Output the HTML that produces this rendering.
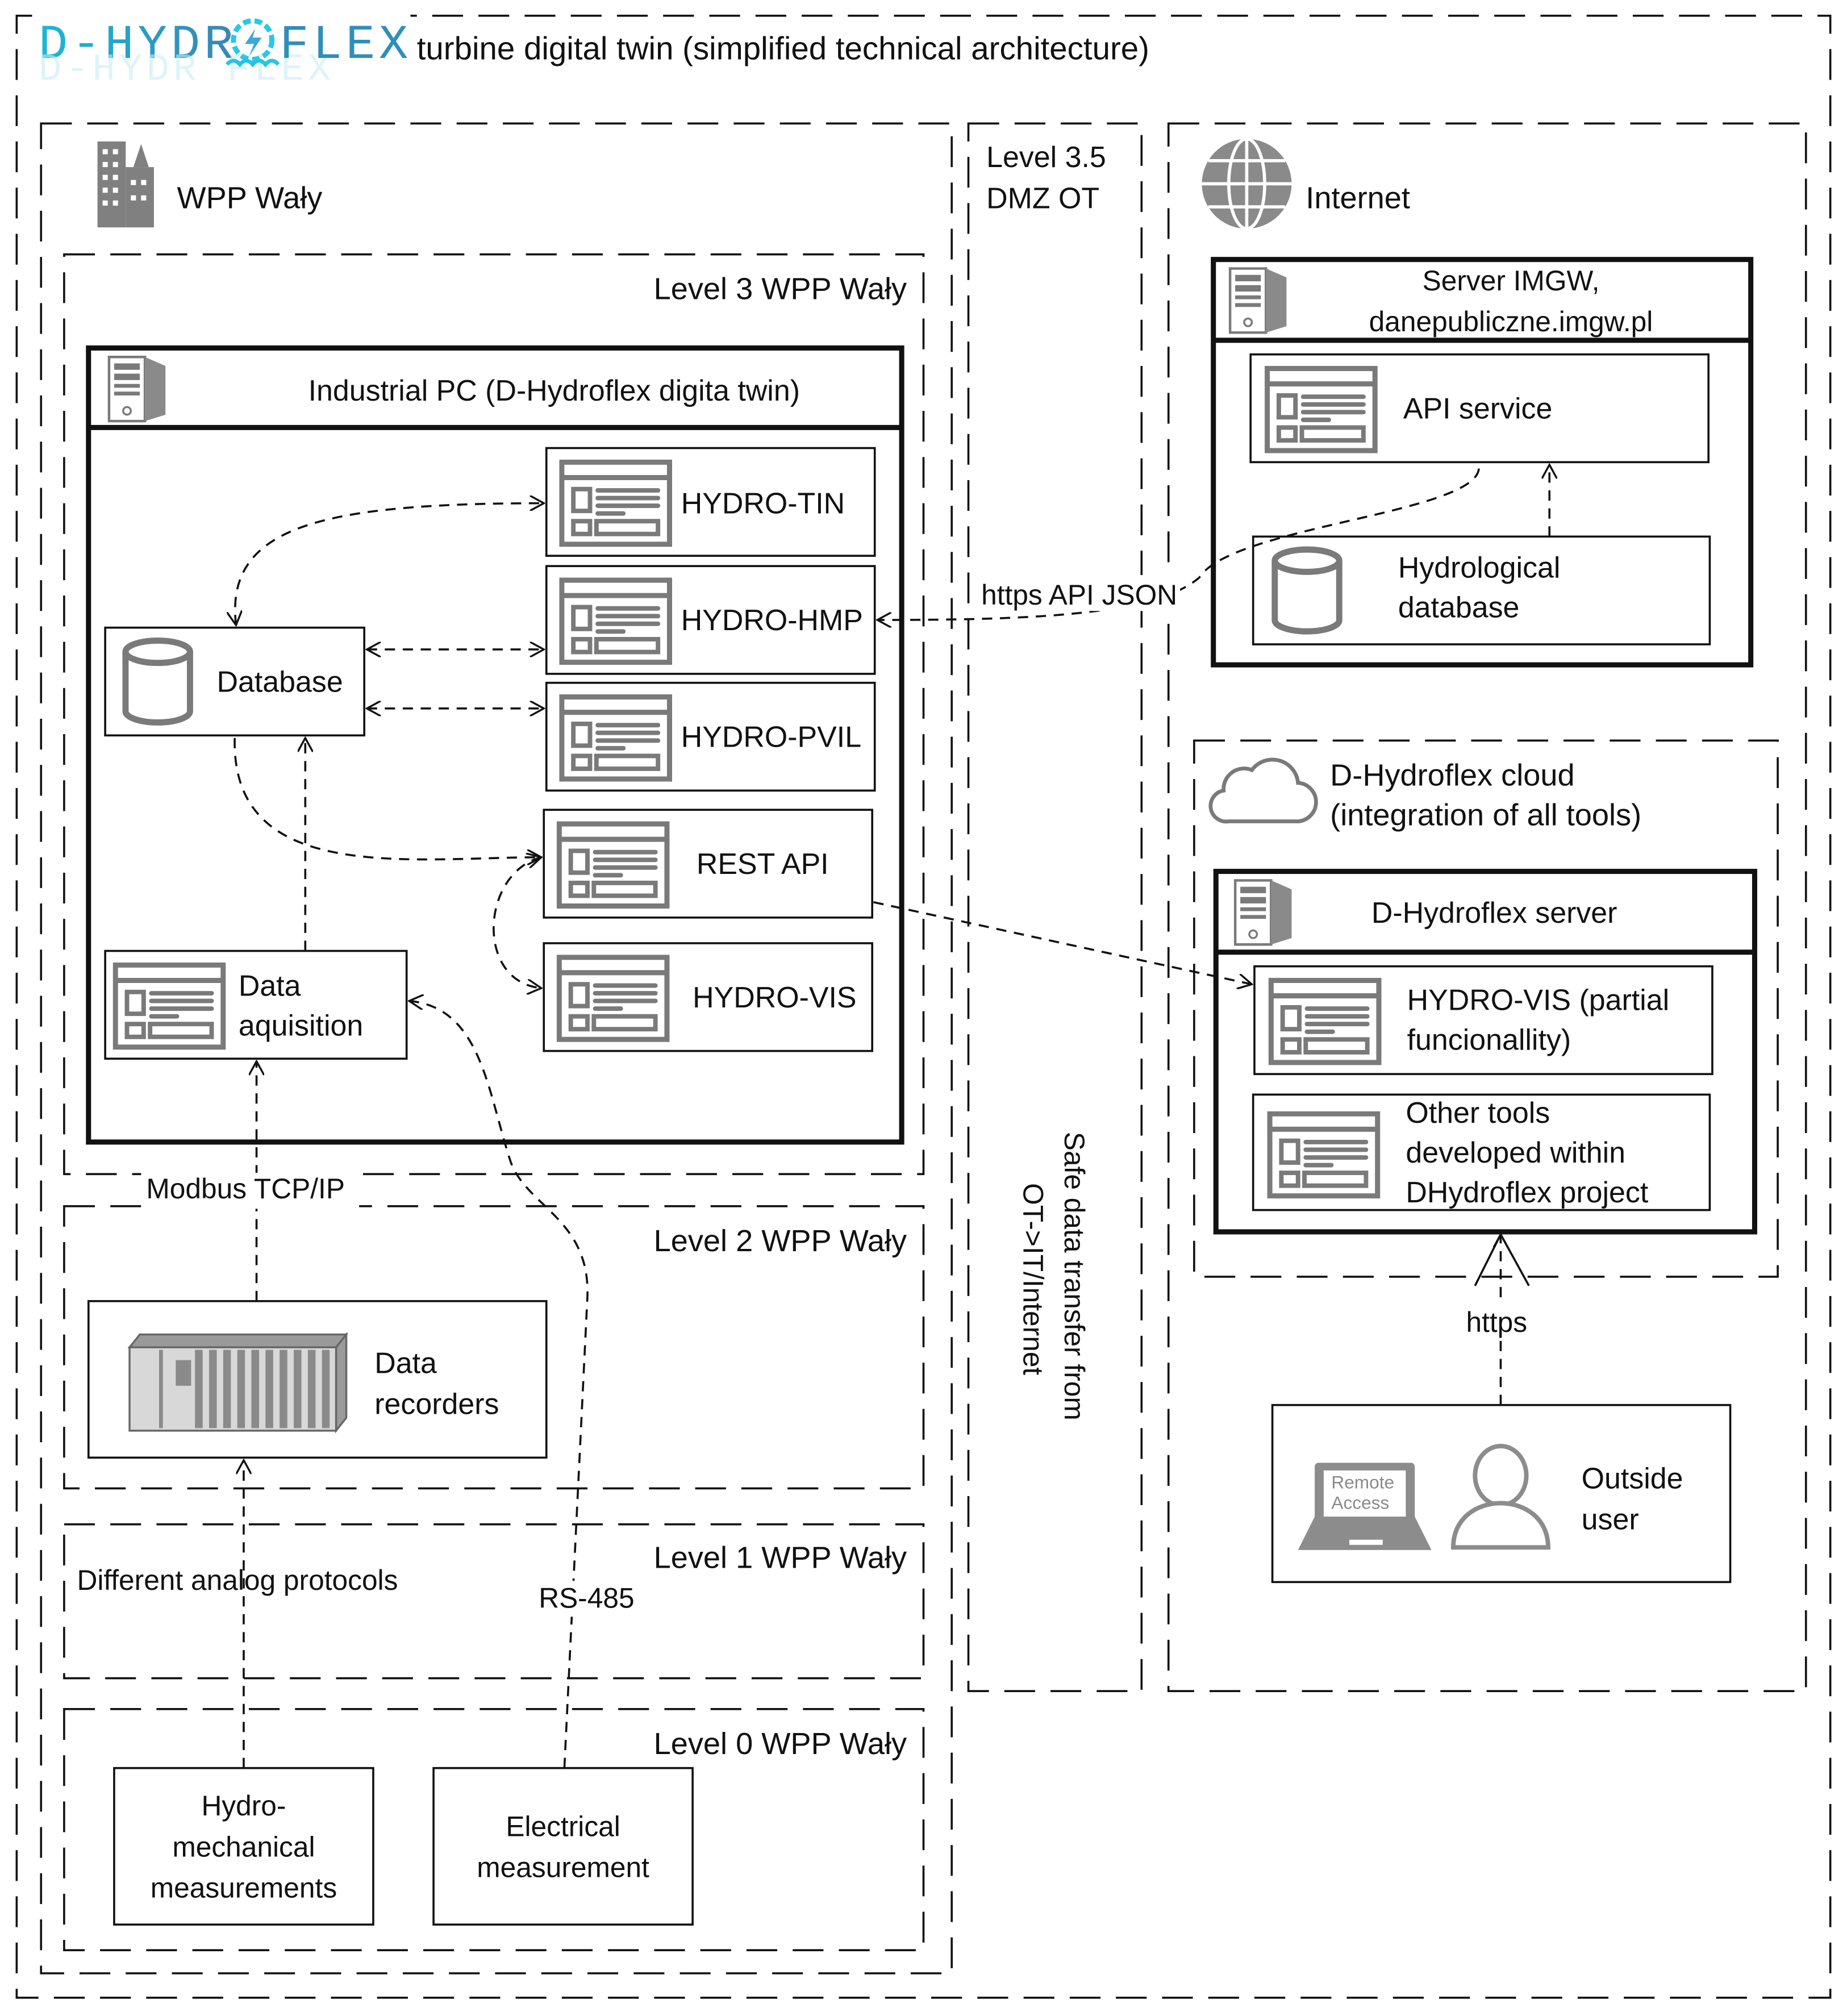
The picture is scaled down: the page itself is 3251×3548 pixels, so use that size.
<!DOCTYPE html>
<html><head><meta charset="utf-8"><style>
html,body{margin:0;padding:0;background:#fff;}
svg{display:block;}
text{font-family:"Liberation Sans",sans-serif;fill:#111;}
</style></head><body>
<svg width="3251" height="3548" viewBox="0 0 1440 1571" xmlns="http://www.w3.org/2000/svg">
<defs>
<symbol id="win" viewBox="0 0 88 68">
<rect x="2" y="2" width="84" height="64" fill="#fff" stroke="#7a7a7a" stroke-width="4"/>
<line x1="2" y1="14" x2="86" y2="14" stroke="#7a7a7a" stroke-width="4"/>
<rect x="11" y="23" width="13" height="17" fill="none" stroke="#7a7a7a" stroke-width="3.5"/>
<g stroke="#7a7a7a" stroke-width="3.5" stroke-linecap="round"><line x1="30" y1="24" x2="77" y2="24"/><line x1="30" y1="30" x2="77" y2="30"/><line x1="30" y1="36" x2="77" y2="36"/><line x1="30" y1="42" x2="50" y2="42"/></g>
<rect x="11" y="48" width="13" height="10" fill="none" stroke="#7a7a7a" stroke-width="3.5"/>
<rect x="29" y="48" width="48" height="10" fill="none" stroke="#7a7a7a" stroke-width="3.5"/>
</symbol>
<symbol id="srv" viewBox="0 0 46 52">
<rect x="1" y="1" width="28" height="50" fill="#fff" stroke="#7a7a7a" stroke-width="2"/>
<polygon points="29,1 45,8 45,46 29,51" fill="#8a8a8a"/>
<rect x="5" y="6" width="20" height="5" fill="#7a7a7a"/><rect x="5" y="14" width="20" height="5" fill="#7a7a7a"/><rect x="5" y="22" width="20" height="3" fill="#7a7a7a"/><rect x="5" y="28" width="20" height="3" fill="#7a7a7a"/>
<circle cx="15" cy="43" r="3" fill="none" stroke="#7a7a7a" stroke-width="1.5"/>
</symbol>
<symbol id="cyl" viewBox="0 0 60 72">
<path d="M4,12 V60 A26,9 0 0 0 56,60 V12" fill="#fff" stroke="#7a7a7a" stroke-width="5"/>
<ellipse cx="30" cy="12" rx="26" ry="9" fill="#fff" stroke="#7a7a7a" stroke-width="5"/>
</symbol>
<marker id="ah" viewBox="0 0 12 12" refX="11" refY="6" markerWidth="12" markerHeight="12" markerUnits="userSpaceOnUse" orient="auto-start-reverse"><path d="M0,0 L11,6 L0,12" fill="none" stroke="#111" stroke-width="1.5"/></marker>
<linearGradient id="lg" x1="0" x2="1"><stop offset="0" stop-color="#1ab8d8"/><stop offset="1" stop-color="#3a86b0"/></linearGradient>
</defs>

<g fill="none" stroke="#111" stroke-width="1.6" stroke-dasharray="24,12">
<rect x="13" y="12" width="1414" height="1545"/>
<rect x="32" y="96" width="710" height="1442"/>
<rect x="50" y="198" width="670" height="717"/>
<rect x="755" y="96" width="135" height="1222"/>
<rect x="911" y="96" width="497" height="1222"/>
<rect x="931" y="577" width="455" height="418"/>
<rect x="50" y="940" width="670" height="220"/>
<rect x="50" y="1188" width="670" height="120"/>
<rect x="50" y="1332" width="670" height="188"/>
</g>

<!-- title -->
<rect x="25" y="8" width="295" height="60" fill="#fff"/>
<text x="30" y="45" font-family="Liberation Mono,monospace" font-size="38" style="fill:url(#lg);font-family:'Liberation Mono',monospace" letter-spacing="3">D-HYDR</text>
<text x="30" y="62" font-size="30" style="fill:#c8eef6;font-family:'Liberation Mono',monospace" opacity="0.6" letter-spacing="3" transform="translate(0,0)">D-HYDR  FLEX</text>
<circle cx="197" cy="31" r="15" fill="none" stroke="#2cc7e6" stroke-width="4" stroke-dasharray="6,3"/>
<path d="M199,22 L191,34 L198,34 L194,44 L204,29 L197,29 Z" fill="#3aa8e0"/>
<path d="M177,50 q5,-6 10,0 q5,-6 10,0 q5,-6 10,0 q5,-6 10,0" fill="none" stroke="#25c4e4" stroke-width="3"/>
<text x="218" y="45" font-size="38" style="fill:#2e8fba;font-family:'Liberation Mono',monospace" letter-spacing="3">FLEX</text>
<text x="325" y="46" font-size="25">turbine digital twin (simplified technical architecture)</text>

<!-- WPP -->
<g fill="#808080"><rect x="76" y="110" width="22" height="67"/><rect x="98" y="130" width="22" height="47"/><polygon points="104,130 110,112 116,130"/></g>
<g fill="#fff"><rect x="80" y="116" width="4" height="4"/><rect x="88" y="116" width="4" height="4"/><rect x="80" y="126" width="4" height="4"/><rect x="88" y="126" width="4" height="4"/><rect x="80" y="136" width="4" height="4"/><rect x="88" y="136" width="4" height="4"/><rect x="80" y="146" width="4" height="4"/><rect x="88" y="146" width="4" height="4"/><rect x="80" y="156" width="4" height="4"/><rect x="88" y="156" width="4" height="4"/><rect x="102" y="140" width="4" height="4"/><rect x="110" y="140" width="4" height="4"/><rect x="102" y="152" width="4" height="4"/><rect x="110" y="152" width="4" height="4"/></g>
<text x="138" y="162" font-size="24">WPP Wały</text>
<text x="707" y="233" font-size="24" text-anchor="end">Level 3 WPP Wały</text>

<!-- Industrial PC -->
<rect x="69" y="271" width="634" height="619" fill="#fff" stroke="#111" stroke-width="4"/>
<line x1="69" y1="333" x2="703" y2="333" stroke="#111" stroke-width="4"/>
<use href="#srv" x="84" y="277" width="46" height="52"/>
<text x="432" y="312" font-size="23" text-anchor="middle">Industrial PC (D-Hydroflex digita twin)</text>

<g fill="#fff" stroke="#111" stroke-width="1.6">
<rect x="426" y="349" width="256" height="84"/>
<rect x="426" y="441" width="256" height="84"/>
<rect x="426" y="532" width="256" height="84"/>
<rect x="424" y="631" width="256" height="84"/>
<rect x="424" y="735" width="256" height="84"/>
<rect x="82" y="489" width="202" height="84"/>
<rect x="82" y="741" width="235" height="84"/>
</g>
<use href="#win" x="436" y="358" width="88" height="68"/>
<use href="#win" x="436" y="450" width="88" height="68"/>
<use href="#win" x="436" y="541" width="88" height="68"/>
<use href="#win" x="434" y="640" width="88" height="68"/>
<use href="#win" x="434" y="744" width="88" height="68"/>
<use href="#win" x="88" y="750" width="88" height="68"/>
<use href="#cyl" x="94" y="495" width="58" height="72"/>
<g font-size="23">
<text x="531" y="400">HYDRO-TIN</text>
<text x="531" y="491">HYDRO-HMP</text>
<text x="531" y="582">HYDRO-PVIL</text>
<text x="543" y="681">REST API</text>
<text x="540" y="785">HYDRO-VIS</text>
<text x="169" y="539">Database</text>
<text x="186" y="776">Data</text>
<text x="186" y="807">aquisition</text>
</g>

<!-- Level 3.5 -->
<text x="769" y="130" font-size="23">Level 3.5</text>
<text x="769" y="162" font-size="23">DMZ OT</text>
<text transform="translate(830,882) rotate(90)" font-size="22">Safe data transfer from</text>
<text transform="translate(798,922) rotate(90)" font-size="22">OT-&gt;IT/Internet</text>

<!-- Internet -->
<circle cx="972" cy="143" r="35" fill="#8a8a8a"/>
<g fill="none" stroke="#fff" stroke-width="2.5"><ellipse cx="972" cy="143" rx="14" ry="35"/><line x1="972" y1="108" x2="972" y2="178"/><line x1="937" y1="143" x2="1007" y2="143"/><path d="M942,125 H1002 M942,161 H1002"/></g>
<text x="1018" y="162" font-size="24">Internet</text>

<rect x="946" y="202" width="419" height="316" fill="#fff" stroke="#111" stroke-width="4"/>
<line x1="946" y1="265" x2="1365" y2="265" stroke="#111" stroke-width="4"/>
<use href="#srv" x="958" y="208" width="46" height="52"/>
<text x="1178" y="226" font-size="22" text-anchor="middle">Server IMGW,</text>
<text x="1178" y="258" font-size="22" text-anchor="middle">danepubliczne.imgw.pl</text>
<rect x="975" y="276" width="357" height="84" fill="#fff" stroke="#111" stroke-width="1.6"/>
<use href="#win" x="985" y="285" width="90" height="68"/>
<text x="1094" y="326" font-size="23">API service</text>
<rect x="977" y="418" width="356" height="84" fill="#fff" stroke="#111" stroke-width="1.6"/>
<use href="#cyl" x="990" y="424" width="58" height="72"/>
<text x="1090" y="450" font-size="23">Hydrological</text>
<text x="1090" y="481" font-size="23">database</text>

<!-- cloud -->
<path d="M958,640 a12,12 0 0 1 -4,-24 a16,16 0 0 1 22,-16 a20,20 0 0 1 36,10 a14,14 0 0 1 -2,30 Z" fill="#fff" stroke="#7a7a7a" stroke-width="3"/>
<text x="1037" y="612" font-size="24">D-Hydroflex cloud</text>
<text x="1037" y="643" font-size="24">(integration of all tools)</text>
<rect x="948" y="679" width="420" height="281" fill="#fff" stroke="#111" stroke-width="4"/>
<line x1="948" y1="742" x2="1368" y2="742" stroke="#111" stroke-width="4"/>
<use href="#srv" x="962" y="685" width="46" height="52"/>
<text x="1165" y="719" font-size="23" text-anchor="middle">D-Hydroflex server</text>
<rect x="978" y="753" width="357" height="84" fill="#fff" stroke="#111" stroke-width="1.6"/>
<use href="#win" x="988" y="762" width="90" height="68"/>
<text x="1097" y="787" font-size="23">HYDRO-VIS (partial</text>
<text x="1097" y="818" font-size="23">funcionallity)</text>
<rect x="977" y="853" width="356" height="90" fill="#fff" stroke="#111" stroke-width="1.6"/>
<use href="#win" x="987" y="866" width="90" height="68"/>
<text x="1096" y="875" font-size="23">Other tools</text>
<text x="1096" y="906" font-size="23">developed within</text>
<text x="1096" y="937" font-size="23">DHydroflex project</text>

<!-- outside user -->
<rect x="992" y="1095" width="357" height="138" fill="#fff" stroke="#111" stroke-width="1.6"/>
<rect x="1025" y="1140" width="78" height="62" rx="3" fill="#8c8c8c"/>
<rect x="1032" y="1146" width="64" height="50" fill="#fff"/>
<polygon points="1025,1196 1103,1196 1116,1222 1012,1222" fill="#8c8c8c" transform="translate(0,-14)"/>
<rect x="1052" y="1200" width="26" height="4" fill="#fff"/>
<text x="1038" y="1160" font-size="14" style="fill:#8a8a8a">Remote</text>
<text x="1038" y="1176" font-size="14" style="fill:#8a8a8a">Access</text>
<ellipse cx="1170" cy="1150" rx="20" ry="23" fill="#fff" stroke="#8c8c8c" stroke-width="3.5"/>
<path d="M1133,1206 C1133,1160 1207,1160 1207,1206 Z" fill="#fff" stroke="#8c8c8c" stroke-width="3.5"/>
<text x="1233" y="1160" font-size="23">Outside</text>
<text x="1233" y="1192" font-size="23">user</text>

<!-- Level 2 -->
<text x="707" y="975" font-size="24" text-anchor="end">Level 2 WPP Wały</text>
<rect x="69" y="1014" width="357" height="122" fill="#fff" stroke="#111" stroke-width="1.6"/>
<g fill="#9a9a9a" stroke="#666" stroke-width="1.5">
<polygon points="101,1050 262,1050 270,1040 109,1040"/>
<polygon points="262,1050 270,1040 270,1105 262,1115"/>
<rect x="101" y="1050" width="161" height="65" fill="#d8d8d8"/>
</g>
<g fill="#8a8a8a"><rect x="152" y="1052" width="6" height="61"/><rect x="163" y="1052" width="6" height="61"/><rect x="174" y="1052" width="6" height="61"/><rect x="185" y="1052" width="6" height="61"/><rect x="196" y="1052" width="6" height="61"/><rect x="207" y="1052" width="6" height="61"/><rect x="218" y="1052" width="6" height="61"/><rect x="229" y="1052" width="6" height="61"/><rect x="240" y="1052" width="6" height="61"/><rect x="251" y="1052" width="6" height="61"/><rect x="124" y="1052" width="3" height="61"/><rect x="137" y="1060" width="12" height="20"/></g>
<text x="292" y="1070" font-size="23">Data</text>
<text x="292" y="1102" font-size="23">recorders</text>

<!-- Level 1 / 0 -->
<text x="707" y="1222" font-size="24" text-anchor="end">Level 1 WPP Wały</text>
<text x="60" y="1239" font-size="22">Different analog protocols</text>
<text x="707" y="1367" font-size="24" text-anchor="end">Level 0 WPP Wały</text>
<rect x="89" y="1378" width="202" height="122" fill="#fff" stroke="#111" stroke-width="1.6"/>
<rect x="338" y="1378" width="202" height="122" fill="#fff" stroke="#111" stroke-width="1.6"/>
<g font-size="22" text-anchor="middle">
<text x="190" y="1415">Hydro-</text>
<text x="190" y="1447">mechanical</text>
<text x="190" y="1479">measurements</text>
<text x="439" y="1431">Electrical</text>
<text x="439" y="1463">measurement</text>
</g>

<!-- connectors -->
<g fill="none" stroke="#111" stroke-width="1.6" stroke-dasharray="8,6">
<path d="M184,487 C175,410 250,392 424,392" marker-start="url(#ah)" marker-end="url(#ah)"/>
<path d="M286,506 H424" marker-start="url(#ah)" marker-end="url(#ah)"/>
<path d="M286,552 H424" marker-start="url(#ah)" marker-end="url(#ah)"/>
<path d="M183,575 C180,690 320,668 422,668" marker-end="url(#ah)"/>
<path d="M238,741 V575" marker-end="url(#ah)"/>
<path d="M422,668 C375,680 370,765 422,770" marker-start="url(#ah)" marker-end="url(#ah)"/>
<path d="M1153,365 C1150,400 960,410 935,450 C900,480 800,483 684,483" marker-end="url(#ah)"/>
<path d="M1208,418 V362" marker-end="url(#ah)"/>
<path d="M681,703 L976,767" marker-end="url(#ah)"/>
<path d="M200,1014 V827" marker-end="url(#ah)"/>
<path d="M190,1378 V1138" marker-end="url(#ah)"/>
<path d="M440,1378 L458,1010 C460,950 410,940 398,905 C380,850 375,785 319,780" marker-end="url(#ah)"/>
<path d="M1170,1095 V962" marker-end="url(#ah)"/>
</g>
<g stroke="#111" stroke-width="1.6"><line x1="1170" y1="962" x2="1150" y2="1002"/><line x1="1170" y1="962" x2="1192" y2="1002"/></g>

<!-- labels on lines -->
<rect x="762" y="448" width="158" height="28" fill="#fff"/>
<text x="765" y="471" font-size="22">https API JSON</text>
<rect x="110" y="914" width="170" height="28" fill="#fff"/>
<text x="114" y="934" font-size="22">Modbus TCP/IP</text>
<rect x="416" y="1232" width="80" height="28" fill="#fff"/>
<text x="420" y="1253" font-size="22">RS-485</text>
<rect x="1140" y="1016" width="60" height="28" fill="#fff"/>
<text x="1143" y="1038" font-size="22">https</text>
</svg>
</body></html>
